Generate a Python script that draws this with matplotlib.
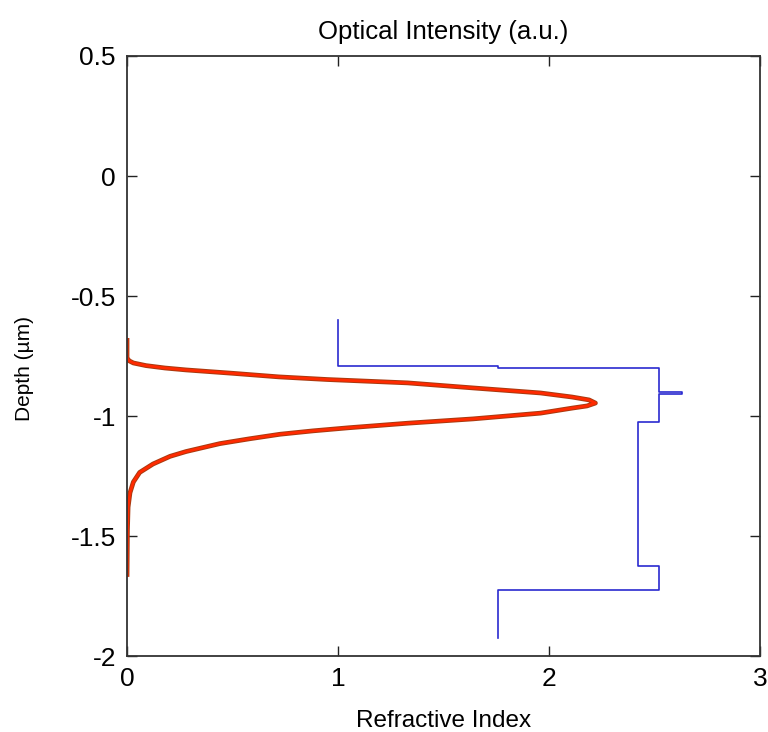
import matplotlib
matplotlib.use("Agg")
import matplotlib.pyplot as plt

plt.rcParams['font.family'] = ['Liberation Sans', 'DejaVu Sans']

# Optical intensity profile (depth in um, intensity a.u.)
intensity_depth = [-0.675, -0.758, -0.770, -0.779, -0.790, -0.800, -0.808, -0.822, -0.837,
                   -0.848, -0.862, -0.883, -0.904, -0.921, -0.933, -0.946, -0.958, -0.967,
                   -0.988, -1.012, -1.030, -1.049, -1.062, -1.076, -1.095, -1.115, -1.148,
                   -1.168, -1.200, -1.235, -1.275, -1.320, -1.380, -1.475, -1.670]
intensity_vals = [0.0, 0.0, 0.01, 0.03, 0.09, 0.18, 0.28, 0.50, 0.72,
                  0.95, 1.33, 1.64, 1.96, 2.11, 2.19, 2.22, 2.18, 2.11,
                  1.96, 1.64, 1.33, 1.05, 0.88, 0.725, 0.58, 0.44, 0.28,
                  0.204, 0.123, 0.06, 0.03, 0.014, 0.005, 0.002, 0.0]

# Refractive index profile (step profile)
index_depth = [-0.60, -0.79, -0.79, -0.80, -0.80, -0.898, -0.898, -0.910, -0.910,
               -1.025, -1.025, -1.625, -1.625, -1.725, -1.725, -1.925]
index_vals = [1.00, 1.00, 1.76, 1.76, 2.52, 2.52, 2.63, 2.63, 2.52,
              2.52, 2.42, 2.42, 2.52, 2.52, 1.76, 1.76]

xticks = [0, 1, 2, 3]
yticks = [-2, -1.5, -1, -0.5, 0, 0.5]
ytick_labels = ['-2', '-1.5', '-1', '-0.5', '0', '0.5']

fig = plt.figure(figsize=(7.68, 7.32), dpi=100)
ax = fig.add_axes([0.1654, 0.1038, 0.8242, 0.8197])

ax.plot(index_vals, index_depth, color='#2a2ad0', lw=1.2)
ax.plot(intensity_vals, intensity_depth, color='#a83a10', lw=3.4,
        solid_capstyle='butt', solid_joinstyle='round')
ax.plot(intensity_vals, intensity_depth, color='#ff2a00', lw=2.0,
        solid_capstyle='butt', solid_joinstyle='round')

ax.set_xlim(0, 3)
ax.set_ylim(-2, 0.5)
ax.set_xticks(xticks)
ax.set_xticklabels([str(t) for t in xticks])
ax.set_yticks(yticks)
ax.set_yticklabels(ytick_labels)
ax.tick_params(direction='in', length=7, width=1, top=True, right=True,
               labelsize=19, pad=8, color='#222222')
for s in ax.spines.values():
    s.set_linewidth(1.3)
    s.set_color('#333333')

ax.set_xlabel('Refractive Index', fontsize=17.5)
ax.xaxis.set_label_coords(0.5, -0.09)
ax.set_ylabel('Depth (µm)', fontsize=15)
ax.yaxis.set_label_coords(-0.147, 0.48)
ax.set_title('Optical Intensity (a.u.)', fontsize=18.5, pad=12)

fig.savefig('out.png', dpi=100)
